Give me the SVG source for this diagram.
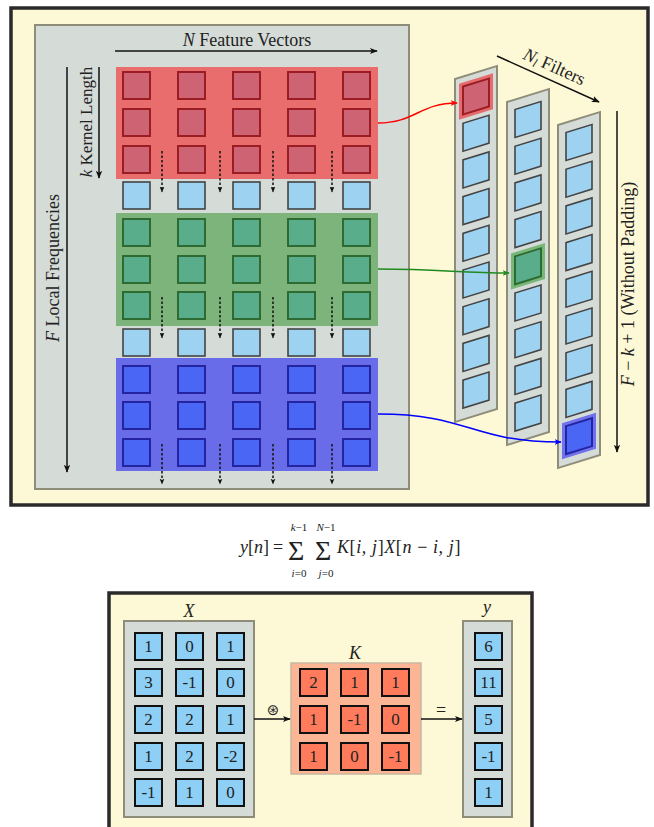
<svg xmlns="http://www.w3.org/2000/svg" width="654" height="827" viewBox="0 0 654 827" font-family="'Liberation Serif', serif">
<style>
text{font-family:'Liberation Serif',serif;fill:#222}
.it{font-style:italic}
.frame{fill:#fdf8d5;stroke:#2a2a2a;stroke-width:3.5}
.panel{fill:#d5dbd7;stroke:#8e8d79;stroke-width:2}
.rb{fill:#e96d6c}
.gb{fill:#7cb47c}
.bb{fill:#686ce8}
.rs{fill:#cd6373;stroke:#9b1c22;stroke-width:2}
.gs{fill:#5aad8b;stroke:#2e6b32;stroke-width:2}
.bs{fill:#4a66f5;stroke:#2424a0;stroke-width:2}
.ls{fill:#9dd2f0;stroke:#444;stroke-width:1.6}
.xs{fill:#8ecff5;stroke:#111;stroke-width:2}
.ks{fill:#ff7b5c;stroke:#111;stroke-width:2}
.dot{stroke:#111;stroke-width:1.5;stroke-dasharray:2.5,2;fill:none}
.num{font-size:17px;text-anchor:middle}
</style>
<defs>
<marker id="ah" viewBox="0 0 10 10" refX="9" refY="5" markerWidth="8" markerHeight="8" markerUnits="userSpaceOnUse" orient="auto"><path d="M0,1 L10,5 L0,9 L2.5,5 Z" fill="#111"/></marker>
<marker id="ahs" viewBox="0 0 10 10" refX="9" refY="5" markerWidth="6" markerHeight="6" markerUnits="userSpaceOnUse" orient="auto"><path d="M0,1 L10,5 L0,9 L2.5,5 Z" fill="#111"/></marker>
<marker id="ahr" viewBox="0 0 10 10" refX="9" refY="5" markerWidth="7" markerHeight="7" markerUnits="userSpaceOnUse" orient="auto"><path d="M0,1 L10,5 L0,9 L2.5,5 Z" fill="#f00"/></marker>
<marker id="ahg" viewBox="0 0 10 10" refX="9" refY="5" markerWidth="7" markerHeight="7" markerUnits="userSpaceOnUse" orient="auto"><path d="M0,1 L10,5 L0,9 L2.5,5 Z" fill="#1f8a1f"/></marker>
<marker id="ahb" viewBox="0 0 10 10" refX="9" refY="5" markerWidth="7" markerHeight="7" markerUnits="userSpaceOnUse" orient="auto"><path d="M0,1 L10,5 L0,9 L2.5,5 Z" fill="#00f"/></marker>
</defs>

<!-- top panel -->
<g id="top-frame"><rect class="frame" x="11" y="8" width="637" height="497"/></g>
<g id="input-panel">
<rect class="panel" x="35" y="25" width="374" height="464"/>
<text x="247" y="46" font-size="18" text-anchor="middle"><tspan class="it">N</tspan> Feature Vectors</text>
<line x1="115" y1="51" x2="377" y2="51" stroke="#111" stroke-width="1.5" marker-end="url(#ah)"/>
<line x1="99" y1="67" x2="99" y2="178" stroke="#111" stroke-width="1.5" marker-end="url(#ah)"/>
<text transform="translate(92,122) rotate(-90)" font-size="17" text-anchor="middle"><tspan class="it">k</tspan> Kernel Length</text>
<line x1="67" y1="67" x2="67" y2="472" stroke="#111" stroke-width="1.5" marker-end="url(#ah)"/>
<text transform="translate(59,268) rotate(-90)" font-size="18" text-anchor="middle"><tspan class="it">F</tspan> Local Frequencies</text>
</g>

<g id="red-block">
<rect class="rb" x="116" y="67" width="262" height="112"/>
<rect class="rs" x="123" y="72" width="27" height="27"/><rect class="rs" x="178" y="72" width="27" height="27"/><rect class="rs" x="233" y="72" width="27" height="27"/><rect class="rs" x="288" y="72" width="27" height="27"/><rect class="rs" x="343" y="72" width="27" height="27"/>
<rect class="rs" x="123" y="109" width="27" height="27"/><rect class="rs" x="178" y="109" width="27" height="27"/><rect class="rs" x="233" y="109" width="27" height="27"/><rect class="rs" x="288" y="109" width="27" height="27"/><rect class="rs" x="343" y="109" width="27" height="27"/>
<rect class="rs" x="123" y="146" width="27" height="27"/><rect class="rs" x="178" y="146" width="27" height="27"/><rect class="rs" x="233" y="146" width="27" height="27"/><rect class="rs" x="288" y="146" width="27" height="27"/><rect class="rs" x="343" y="146" width="27" height="27"/>
</g>
<g id="light-row-1">
<rect class="ls" x="123" y="182" width="27" height="27"/><rect class="ls" x="178" y="182" width="27" height="27"/><rect class="ls" x="233" y="182" width="27" height="27"/><rect class="ls" x="288" y="182" width="27" height="27"/><rect class="ls" x="343" y="182" width="27" height="27"/>
</g>
<g id="green-block">
<rect class="gb" x="116" y="213" width="262" height="113"/>
<rect class="gs" x="123" y="219" width="27" height="27"/><rect class="gs" x="178" y="219" width="27" height="27"/><rect class="gs" x="233" y="219" width="27" height="27"/><rect class="gs" x="288" y="219" width="27" height="27"/><rect class="gs" x="343" y="219" width="27" height="27"/>
<rect class="gs" x="123" y="256" width="27" height="27"/><rect class="gs" x="178" y="256" width="27" height="27"/><rect class="gs" x="233" y="256" width="27" height="27"/><rect class="gs" x="288" y="256" width="27" height="27"/><rect class="gs" x="343" y="256" width="27" height="27"/>
<rect class="gs" x="123" y="292" width="27" height="27"/><rect class="gs" x="178" y="292" width="27" height="27"/><rect class="gs" x="233" y="292" width="27" height="27"/><rect class="gs" x="288" y="292" width="27" height="27"/><rect class="gs" x="343" y="292" width="27" height="27"/>
</g>
<g id="light-row-2">
<rect class="ls" x="123" y="329" width="27" height="27"/><rect class="ls" x="178" y="329" width="27" height="27"/><rect class="ls" x="233" y="329" width="27" height="27"/><rect class="ls" x="288" y="329" width="27" height="27"/><rect class="ls" x="343" y="329" width="27" height="27"/>
</g>
<g id="blue-block">
<rect class="bb" x="116" y="358" width="262" height="113"/>
<rect class="bs" x="123" y="366" width="27" height="27"/><rect class="bs" x="178" y="366" width="27" height="27"/><rect class="bs" x="233" y="366" width="27" height="27"/><rect class="bs" x="288" y="366" width="27" height="27"/><rect class="bs" x="343" y="366" width="27" height="27"/>
<rect class="bs" x="123" y="402" width="27" height="27"/><rect class="bs" x="178" y="402" width="27" height="27"/><rect class="bs" x="233" y="402" width="27" height="27"/><rect class="bs" x="288" y="402" width="27" height="27"/><rect class="bs" x="343" y="402" width="27" height="27"/>
<rect class="bs" x="123" y="439" width="27" height="27"/><rect class="bs" x="178" y="439" width="27" height="27"/><rect class="bs" x="233" y="439" width="27" height="27"/><rect class="bs" x="288" y="439" width="27" height="27"/><rect class="bs" x="343" y="439" width="27" height="27"/>
</g>
<g id="dotted-arrows">
<line class="dot" x1="162" y1="151" x2="162" y2="192" marker-end="url(#ahs)"/><line class="dot" x1="220" y1="151" x2="220" y2="192" marker-end="url(#ahs)"/><line class="dot" x1="273" y1="151" x2="273" y2="192" marker-end="url(#ahs)"/><line class="dot" x1="332" y1="151" x2="332" y2="192" marker-end="url(#ahs)"/>
<line class="dot" x1="162" y1="297" x2="162" y2="338" marker-end="url(#ahs)"/><line class="dot" x1="220" y1="297" x2="220" y2="338" marker-end="url(#ahs)"/><line class="dot" x1="273" y1="297" x2="273" y2="338" marker-end="url(#ahs)"/><line class="dot" x1="332" y1="297" x2="332" y2="338" marker-end="url(#ahs)"/>
<line class="dot" x1="162" y1="444" x2="162" y2="484" marker-end="url(#ahs)"/><line class="dot" x1="220" y1="444" x2="220" y2="484" marker-end="url(#ahs)"/><line class="dot" x1="273" y1="444" x2="273" y2="484" marker-end="url(#ahs)"/><line class="dot" x1="332" y1="444" x2="332" y2="484" marker-end="url(#ahs)"/>
</g>

<!-- filter columns -->
<g id="filter-1" transform="translate(455,79) skewY(-17.2)">
<rect class="panel" x="0" y="0" width="42" height="343"/>
<rect fill="#e8585c" opacity="0.85" x="4" y="6" width="34" height="36"/>
<rect class="rs" x="8" y="10" width="26" height="28"/>
<rect class="ls" x="8" y="46.7" width="26" height="28"/><rect class="ls" x="8" y="83.4" width="26" height="28"/><rect class="ls" x="8" y="120.1" width="26" height="28"/><rect class="ls" x="8" y="156.8" width="26" height="28"/><rect class="ls" x="8" y="193.5" width="26" height="28"/><rect class="ls" x="8" y="230.2" width="26" height="28"/><rect class="ls" x="8" y="266.9" width="26" height="28"/><rect class="ls" x="8" y="303.6" width="26" height="28"/>
</g>
<g id="filter-2" transform="translate(507,102) skewY(-17.2)">
<rect class="panel" x="0" y="0" width="42" height="343"/>
<rect class="ls" x="8" y="10" width="26" height="28"/><rect class="ls" x="8" y="46.7" width="26" height="28"/><rect class="ls" x="8" y="83.4" width="26" height="28"/><rect class="ls" x="8" y="120.1" width="26" height="28"/>
<rect fill="#6fb36f" opacity="0.9" x="4" y="152.8" width="34" height="36"/>
<rect class="gs" x="8" y="156.8" width="26" height="28"/>
<rect class="ls" x="8" y="193.5" width="26" height="28"/><rect class="ls" x="8" y="230.2" width="26" height="28"/><rect class="ls" x="8" y="266.9" width="26" height="28"/><rect class="ls" x="8" y="303.6" width="26" height="28"/>
</g>
<g id="filter-3" transform="translate(558,125) skewY(-17.2)">
<rect class="panel" x="0" y="0" width="42" height="343"/>
<rect class="ls" x="8" y="10" width="26" height="28"/><rect class="ls" x="8" y="46.7" width="26" height="28"/><rect class="ls" x="8" y="83.4" width="26" height="28"/><rect class="ls" x="8" y="120.1" width="26" height="28"/><rect class="ls" x="8" y="156.8" width="26" height="28"/><rect class="ls" x="8" y="193.5" width="26" height="28"/><rect class="ls" x="8" y="230.2" width="26" height="28"/><rect class="ls" x="8" y="266.9" width="26" height="28"/>
<rect fill="#6466ee" opacity="0.9" x="4" y="299.6" width="34" height="36"/>
<rect class="bs" x="8" y="303.6" width="26" height="28"/>
</g>

<g id="filters-label">
<line x1="497" y1="56" x2="599" y2="102" stroke="#111" stroke-width="1.5" marker-end="url(#ah)"/>
<text transform="translate(552,72) rotate(24.3)" font-size="18" text-anchor="middle"><tspan class="it">N</tspan><tspan class="it" font-size="12" dy="3">l</tspan><tspan dy="-3"> Filters</tspan></text>
</g>
<g id="output-length">
<line x1="617" y1="111" x2="617" y2="452" stroke="#111" stroke-width="1.5" marker-end="url(#ah)"/>
<text transform="translate(634,284) rotate(-90)" font-size="18" text-anchor="middle"><tspan class="it">F</tspan> − <tspan class="it">k</tspan> + 1 (Without Padding)</text>
</g>

<g id="connectors" fill="none" stroke-width="1.5">
<path d="M378,123 C415,123 420,103 457,103" stroke="#f00" marker-end="url(#ahr)"/>
<path d="M378,269 C440,269 460,273 509,273" stroke="#1f8a1f" marker-end="url(#ahg)"/>
<path d="M378,414 C470,414 470,442 561,442" stroke="#00f" marker-end="url(#ahb)"/>
</g>

<!-- formula -->
<g id="formula">
<text x="240" y="553" font-size="18"><tspan class="it">y</tspan>[<tspan class="it">n</tspan>]</text>
<text x="278" y="553" font-size="18" text-anchor="middle">=</text>
<text x="288" y="560" font-size="28">Σ</text>
<text x="299" y="531" font-size="11" text-anchor="middle"><tspan class="it">k</tspan>−1</text>
<text x="299" y="577" font-size="11" text-anchor="middle"><tspan class="it">i</tspan>=0</text>
<text x="315" y="560" font-size="28">Σ</text>
<text x="326" y="531" font-size="11" text-anchor="middle"><tspan class="it">N</tspan>−1</text>
<text x="326" y="577" font-size="11" text-anchor="middle"><tspan class="it">j</tspan>=0</text>
<text x="337" y="553" font-size="18" letter-spacing="0.6"><tspan class="it">K</tspan>[<tspan class="it">i, j</tspan>]<tspan class="it">X</tspan>[<tspan class="it">n</tspan> − <tspan class="it">i, j</tspan>]</text>
</g>

<!-- bottom example -->
<g id="bottom-frame"><rect class="frame" x="109" y="593" width="423" height="260"/></g>
<g id="X">
<rect class="panel" x="124" y="621" width="130" height="196"/>
<text class="it" x="189" y="617" font-size="18" text-anchor="middle">X</text>
<rect class="xs" x="135" y="633" width="27" height="27"/><rect class="xs" x="176" y="633" width="27" height="27"/><rect class="xs" x="217" y="633" width="27" height="27"/>
<rect class="xs" x="135" y="669" width="27" height="27"/><rect class="xs" x="176" y="669" width="27" height="27"/><rect class="xs" x="217" y="669" width="27" height="27"/>
<rect class="xs" x="135" y="706" width="27" height="27"/><rect class="xs" x="176" y="706" width="27" height="27"/><rect class="xs" x="217" y="706" width="27" height="27"/>
<rect class="xs" x="135" y="743" width="27" height="27"/><rect class="xs" x="176" y="743" width="27" height="27"/><rect class="xs" x="217" y="743" width="27" height="27"/>
<rect class="xs" x="135" y="779" width="27" height="27"/><rect class="xs" x="176" y="779" width="27" height="27"/><rect class="xs" x="217" y="779" width="27" height="27"/>
<text class="num" x="148.5" y="652">1</text><text class="num" x="189.5" y="652">0</text><text class="num" x="230.5" y="652">1</text>
<text class="num" x="148.5" y="688">3</text><text class="num" x="189.5" y="688">-1</text><text class="num" x="230.5" y="688">0</text>
<text class="num" x="148.5" y="725">2</text><text class="num" x="189.5" y="725">2</text><text class="num" x="230.5" y="725">1</text>
<text class="num" x="148.5" y="762">1</text><text class="num" x="189.5" y="762">2</text><text class="num" x="230.5" y="762">-2</text>
<text class="num" x="148.5" y="798">-1</text><text class="num" x="189.5" y="798">1</text><text class="num" x="230.5" y="798">0</text>
</g>
<g id="K">
<rect x="291" y="663" width="130" height="111" fill="#fcb595" stroke="#c9b7a0" stroke-width="1.5"/>
<text class="it" x="355" y="659" font-size="18" text-anchor="middle">K</text>
<rect class="ks" x="300" y="669" width="27" height="27"/><rect class="ks" x="341" y="669" width="27" height="27"/><rect class="ks" x="382" y="669" width="27" height="27"/>
<rect class="ks" x="300" y="706" width="27" height="27"/><rect class="ks" x="341" y="706" width="27" height="27"/><rect class="ks" x="382" y="706" width="27" height="27"/>
<rect class="ks" x="300" y="743" width="27" height="27"/><rect class="ks" x="341" y="743" width="27" height="27"/><rect class="ks" x="382" y="743" width="27" height="27"/>
<text class="num" x="313.5" y="688">2</text><text class="num" x="354.5" y="688">1</text><text class="num" x="395.5" y="688">1</text>
<text class="num" x="313.5" y="725">1</text><text class="num" x="354.5" y="725">-1</text><text class="num" x="395.5" y="725">0</text>
<text class="num" x="313.5" y="762">1</text><text class="num" x="354.5" y="762">0</text><text class="num" x="395.5" y="762">-1</text>
</g>
<g id="Y">
<rect class="panel" x="463" y="621" width="49" height="196"/>
<text class="it" x="487" y="613" font-size="18" text-anchor="middle">y</text>
<rect class="xs" x="475" y="633" width="27" height="27"/><rect class="xs" x="475" y="669" width="27" height="27"/><rect class="xs" x="475" y="706" width="27" height="27"/><rect class="xs" x="475" y="743" width="27" height="27"/><rect class="xs" x="475" y="779" width="27" height="27"/>
<text class="num" x="488.5" y="652">6</text><text class="num" x="488.5" y="688">11</text><text class="num" x="488.5" y="725">5</text><text class="num" x="488.5" y="762">-1</text><text class="num" x="488.5" y="798">1</text>
</g>
<g id="bottom-connectors">
<line x1="254" y1="719" x2="290" y2="719" stroke="#111" stroke-width="1.5" marker-end="url(#ah)"/>
<text x="273" y="715" font-size="15" text-anchor="middle" style="font-family:'DejaVu Sans',sans-serif">⊛</text>
<line x1="421" y1="719" x2="462" y2="719" stroke="#111" stroke-width="1.5" marker-end="url(#ah)"/>
<text x="441" y="716" font-size="18" text-anchor="middle">=</text>
</g>
</svg>
